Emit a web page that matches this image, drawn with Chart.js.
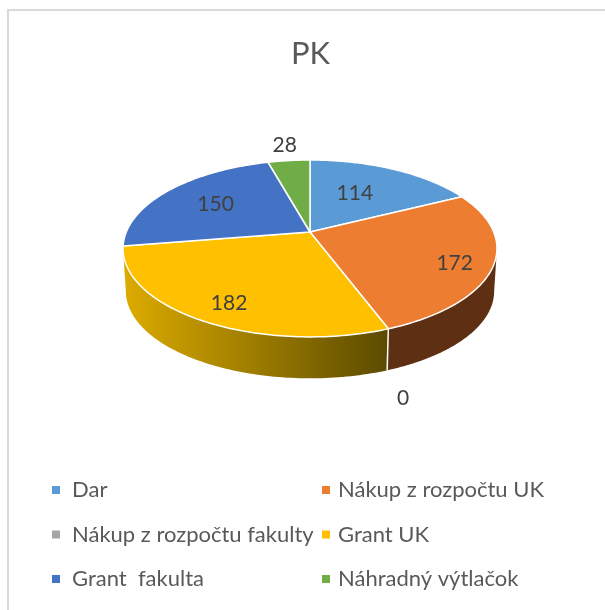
<!DOCTYPE html>
<html>
<head>
<meta charset="utf-8">
<style>html,body{margin:0;padding:0;background:#fff}canvas{display:block}</style>
<script src="https://cdn.jsdelivr.net/npm/chart.js@4"></script>
</head>
<body>
<canvas id="c" width="605" height="610"></canvas>
<script>
const titleText = 'PK';
const categories = ['Dar', 'Nákup z rozpočtu UK', 'Nákup z rozpočtu fakulty', 'Grant UK', 'Grant  fakulta', 'Náhradný výtlačok'];
const values = [114, 172, 0, 182, 150, 28];
const faceColors = ['#5b9bd5', '#ed7d31', '#a5a5a5', '#ffc000', '#4472c4', '#70ad47'];
const labelRadius = [0.50, 0.80, 1.15, 0.77, 0.65, 1.25];
const labelShift = [-5, 5, 51, 6, 0, -1];

const FONT = 'Lato, "Open Sans", sans-serif';
const CX = 310, CY = 232, A = 183.7, B = 85.4, K = 0.186, DEPTH = 43, SHRINK = 0.985;
const FRONT_START = Math.acos(-K), FRONT_END = 2 * Math.PI - FRONT_START;

function project(theta, r) {
  const u = Math.sin(theta) * r, v = -Math.cos(theta) * r, w = 1 - K * v;
  return { x: A * u / w, y: B * v / w };
}
function shade(ctx, i) {
  if (i === 3) {
    const g = ctx.createLinearGradient(125, 0, 387, 0);
    g.addColorStop(0, '#dcab00');
    g.addColorStop(1, '#5c4b00');
    return g;
  }
  return '#5f2f14';
}

const pie3d = {
  id: 'pie3d',
  beforeDraw(chart) {
    const ctx = chart.ctx;
    ctx.save();
    ctx.strokeStyle = '#d9d9d9';
    ctx.lineWidth = 2;
    ctx.beginPath();
    ctx.moveTo(8, 610); ctx.lineTo(8, 10); ctx.lineTo(605, 10);
    ctx.stroke();
    ctx.restore();
  },
  beforeDatasetDraw(chart, args) {
    const ctx = chart.ctx;
    const arcs = chart.getDatasetMeta(args.index).data;
    const spans = arcs.map(a => ({ s: a.startAngle + Math.PI / 2, e: a.endAngle + Math.PI / 2 }));
    const STEPS = 90;
    ctx.save();
    // side walls (only the part of the rim that faces the viewer)
    spans.forEach((sp, i) => {
      const s = Math.max(sp.s, FRONT_START), e = Math.min(sp.e, FRONT_END);
      if (e - s <= 0) return;
      ctx.beginPath();
      for (let n = 0; n <= STEPS; n++) {
        const p = project(s + (e - s) * n / STEPS, 1);
        ctx.lineTo(CX + p.x, CY + p.y);
      }
      for (let n = STEPS; n >= 0; n--) {
        const p = project(s + (e - s) * n / STEPS, 1);
        ctx.lineTo(CX + p.x * SHRINK, CY + p.y * SHRINK + DEPTH);
      }
      ctx.closePath();
      ctx.fillStyle = shade(ctx, i);
      ctx.fill();
    });
    // wall dividers
    ctx.strokeStyle = '#ffffff';
    ctx.lineWidth = 1.5;
    spans.forEach(sp => {
      if (sp.e - sp.s <= 0) return;
      if (sp.s > FRONT_START && sp.s < FRONT_END) {
        const p = project(sp.s, 1);
        ctx.beginPath();
        ctx.moveTo(CX + p.x, CY + p.y);
        ctx.lineTo(CX + p.x * SHRINK, CY + p.y * SHRINK + DEPTH);
        ctx.stroke();
      }
    });
    // top faces
    ctx.lineJoin = 'round';
    spans.forEach((sp, i) => {
      if (sp.e - sp.s <= 0) return;
      ctx.beginPath();
      ctx.moveTo(CX, CY);
      for (let n = 0; n <= STEPS; n++) {
        const p = project(sp.s + (sp.e - sp.s) * n / STEPS, 1);
        ctx.lineTo(CX + p.x, CY + p.y);
      }
      ctx.closePath();
      ctx.fillStyle = faceColors[i];
      ctx.fill();
      ctx.stroke();
    });
    // value labels
    ctx.fillStyle = '#404040';
    ctx.font = '21px ' + FONT;
    ctx.textAlign = 'center';
    ctx.textBaseline = 'middle';
    spans.forEach((sp, i) => {
      const p = project((sp.s + sp.e) / 2, labelRadius[i]);
      ctx.fillText(String(values[i]), CX + p.x, CY + p.y + labelShift[i]);
    });
    ctx.restore();
    return false;
  },
  afterDraw(chart) {
    const ctx = chart.ctx;
    ctx.save();
    ctx.font = '22px ' + FONT;
    ctx.textAlign = 'left';
    ctx.textBaseline = 'middle';
    categories.forEach((name, i) => {
      const col = i % 2, row = Math.floor(i / 2);
      const x = col ? 322 : 52, y = 490 + row * 44.5;
      ctx.fillStyle = faceColors[i];
      ctx.fillRect(x, y - 4, 8, 8);
      ctx.fillStyle = '#595959';
      ctx.fillText(name, x + (col ? 16 : 20), y);
    });
    ctx.restore();
  }
};

new Chart(document.getElementById('c'), {
  type: 'pie',
  data: { labels: categories, datasets: [{ data: values, backgroundColor: faceColors }] },
  options: {
    responsive: false,
    animation: false,
    events: [],
    layout: { padding: { left: 16 } },
    plugins: {
      legend: { display: false },
      tooltip: { enabled: false },
      title: {
        display: true,
        text: titleText,
        color: '#595959',
        font: { family: FONT, size: 31, weight: 'normal' },
        padding: { top: 35, bottom: 10 }
      }
    }
  },
  plugins: [pie3d]
});
</script>
</body>
</html>
